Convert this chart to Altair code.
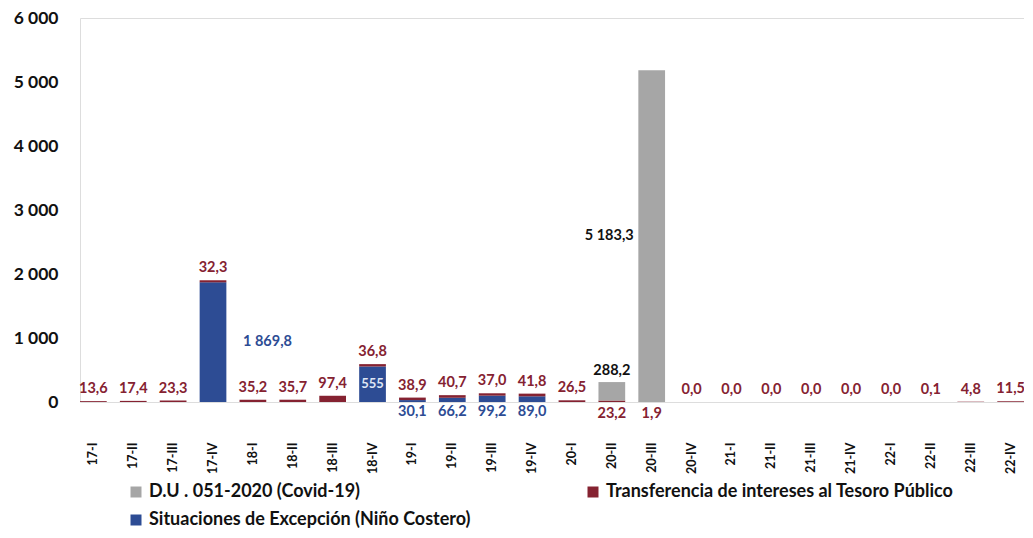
import altair as alt
import pandas as pd

quarters = ["17-I", "17-II", "17-III", "17-IV", "18-I", "18-II", "18-III", "18-IV",
            "19-I", "19-II", "19-III", "19-IV", "20-I", "20-II", "20-III", "20-IV",
            "21-I", "21-II", "21-III", "21-IV", "22-I", "22-II", "22-III", "22-IV"]
covid = [0, 0, 0, 0, 0, 0, 0, 0, 0, 0, 0, 0,
         0, 288.2, 5183.3, 0, 0, 0, 0, 0, 0, 0, 0, 0]
transfer = [13.6, 17.4, 23.3, 32.3, 35.2, 35.7, 97.4, 36.8, 38.9, 40.7, 37.0, 41.8,
            26.5, 23.2, 1.9, 0.0, 0.0, 0.0, 0.0, 0.0, 0.0, 0.1, 4.8, 11.5]
nino = [0, 0, 0, 1869.8, 0, 0, 0, 555, 30.1, 66.2, 99.2, 89.0,
        0, 0, 0, 0, 0, 0, 0, 0, 0, 0, 0, 0]

S_COVID = "D.U . 051-2020 (Covid-19)"
S_TRANS = "Transferencia de intereses al Tesoro Público"
S_NINO = "Situaciones de Excepción (Niño Costero)"

C_GRAY = "#a6a6a6"
C_RED = "#852231"
C_BLUE = "#2d4c94"
FONT = "Lato"


def fmt(v, dec=1):
    s = f"{v:,.{dec}f}"
    return s.replace(",", " ").replace(".", ",")


rows = []
for i, q in enumerate(quarters):
    rows.append({"q": q, "serie": S_NINO, "v": nino[i], "ord": 0})
    rows.append({"q": q, "serie": S_TRANS, "v": transfer[i], "ord": 1})
    rows.append({"q": q, "serie": S_COVID, "v": covid[i], "ord": 2})
bars_df = pd.DataFrame(rows)

red_above, red_below, blue_below, blue_side, blue_in, gray_above, gray_side = ([] for _ in range(7))
for i, q in enumerate(quarters):
    tot = covid[i] + transfer[i] + nino[i]
    if covid[i] > 0:
        red_below.append({"q": q, "y": 0, "t": fmt(transfer[i])})
        if covid[i] > 1000:
            gray_side.append({"q": q, "y": nino[i] + transfer[i] + covid[i] / 2, "t": fmt(covid[i])})
        else:
            gray_above.append({"q": q, "y": tot, "t": fmt(covid[i])})
    else:
        red_above.append({"q": q, "y": tot, "t": fmt(transfer[i])})
    if nino[i] > 1000:
        blue_side.append({"q": q, "y": nino[i] / 2, "t": fmt(nino[i])})
    elif nino[i] > 300:
        blue_in.append({"q": q, "y": nino[i] / 2, "t": fmt(nino[i], 0)})
    elif nino[i] > 0:
        blue_below.append({"q": q, "y": 0, "t": fmt(nino[i])})

xenc = alt.X("q:N", sort=quarters, title=None,
             scale=alt.Scale(paddingInner=0.33, paddingOuter=0.0),
             axis=alt.Axis(labelAngle=-90, labelFontSize=12.5, labelFontWeight="bold",
                           labelPadding=40, labelColor="#111111", ticks=False, domain=False))
yscale = alt.Scale(domain=[0, 6000])

bars = alt.Chart(bars_df).mark_bar().encode(
    x=xenc,
    y=alt.Y("v:Q", stack="zero", scale=yscale, title=None,
            axis=alt.Axis(values=[0, 1000, 2000, 3000, 4000, 5000, 6000],
                          labelExpr="replace(format(datum.value, ','), ',', ' ')",
                          labelFontSize=17.5, labelFontWeight="bold", labelColor="#111111",
                          labelPadding=22, ticks=False, domain=False, grid=False)),
    color=alt.Color("serie:N",
                    scale=alt.Scale(domain=[S_COVID, S_TRANS, S_NINO],
                                    range=[C_GRAY, C_RED, C_BLUE]),
                    legend=alt.Legend(title=None, orient="none", legendX=47, legendY=465,
                                      direction="horizontal", columns=2, columnPadding=113,
                                      rowPadding=10, symbolType="square", symbolSize=121,
                                      symbolStrokeWidth=0, labelFontSize=18,
                                      labelFontWeight="bold", labelColor="#111111",
                                      labelLimit=0, labelOffset=4)),
    order=alt.Order("ord:Q", sort="ascending"),
)


def labels(data, color, size=14.5, **kw):
    return alt.Chart(pd.DataFrame(data, columns=["q", "y", "t"])).mark_text(
        font=FONT, fontWeight="bold", fontSize=size, color=color, **kw
    ).encode(x=alt.X("q:N", sort=quarters), y=alt.Y("y:Q", scale=yscale), text="t:N")


layers = [
    bars,
    labels(red_above, C_RED, baseline="bottom", dy=-5),
    labels(red_below, C_RED, baseline="top", dy=5),
    labels(blue_below, C_BLUE, baseline="top", dy=3),
    labels(blue_side, C_BLUE, align="left", dx=30),
    labels(blue_in, "#dfe6f5", size=13),
    labels(gray_above, "#111111", baseline="bottom", dy=-4),
    labels(gray_side, "#111111", align="right", dx=-18),
]

chart = alt.layer(*layers).properties(
    width=944, height=384,
    autosize=alt.AutoSizeParams(type="none"),
    padding={"left": 72, "top": 10, "right": 0, "bottom": 128},
).configure_view(stroke=None).configure(font=FONT)

chart.save("out.html", embed_options={"renderer": "svg", "actions": False})
